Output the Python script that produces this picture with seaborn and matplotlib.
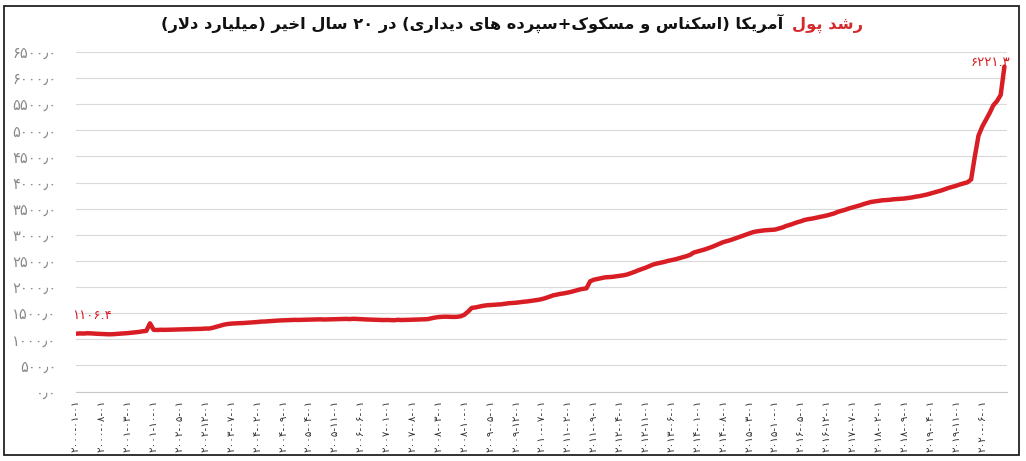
import re
import numpy as np
import pandas as pd
import matplotlib
matplotlib.use("Agg")
import matplotlib.pyplot as plt
import seaborn as sns
from matplotlib.offsetbox import TextArea, HPacker, AnchoredOffsetbox
from matplotlib.patches import Rectangle

# ---------------- data (billion USD, monthly) ----------------
months = pd.date_range("2000-01-01", "2020-12-01", freq="MS")
v2000 = [1106.4, 1112, 1110, 1115, 1113, 1108, 1104, 1102, 1098, 1095, 1097, 1103]
v2001 = [1108, 1112, 1118, 1125, 1132, 1140, 1152, 1160, 1305, 1180, 1178, 1182]
v2002 = [1180, 1182, 1185, 1188, 1186, 1190, 1192, 1195, 1194, 1198, 1200, 1205]
v2003 = [1205, 1220, 1240, 1260, 1280, 1292, 1300, 1305, 1308, 1310, 1315, 1320]
v2004 = [1325, 1330, 1338, 1340, 1345, 1350, 1355, 1360, 1362, 1365, 1368, 1372]
v2005 = [1370, 1372, 1375, 1378, 1376, 1380, 1382, 1378, 1380, 1384, 1382, 1386]
v2006 = [1388, 1390, 1386, 1392, 1388, 1385, 1380, 1378, 1375, 1372, 1370, 1368]
v2007 = [1370, 1368, 1365, 1372, 1368, 1370, 1374, 1376, 1378, 1380, 1382, 1385]
v2008 = [1400, 1415, 1425, 1430, 1432, 1430, 1428, 1430, 1440, 1470, 1530, 1600]
v2009 = [1610, 1625, 1640, 1650, 1655, 1660, 1665, 1670, 1680, 1690, 1695, 1700]
v2010 = [1710, 1718, 1725, 1735, 1745, 1755, 1770, 1790, 1815, 1840, 1855, 1870]
v2011 = [1880, 1895, 1910, 1930, 1950, 1965, 1975, 2110, 2140, 2155, 2170, 2185]
v2012 = [2190, 2195, 2205, 2215, 2225, 2240, 2265, 2290, 2320, 2345, 2370, 2400]
v2013 = [2430, 2450, 2465, 2480, 2500, 2515, 2530, 2550, 2570, 2590, 2615, 2660]
v2014 = [2680, 2700, 2720, 2745, 2770, 2800, 2830, 2860, 2880, 2900, 2925, 2950]
v2015 = [2975, 3000, 3025, 3050, 3065, 3075, 3085, 3090, 3095, 3100, 3120, 3140]
v2016 = [3170, 3190, 3215, 3240, 3260, 3285, 3300, 3310, 3325, 3340, 3355, 3370]
v2017 = [3390, 3410, 3440, 3460, 3480, 3505, 3525, 3545, 3565, 3590, 3610, 3630]
v2018 = [3640, 3650, 3660, 3665, 3670, 3680, 3685, 3690, 3695, 3705, 3715, 3730]
v2019 = [3740, 3755, 3770, 3790, 3810, 3830, 3850, 3875, 3900, 3920, 3940, 3965]
v2020 = [3985, 4005, 4060, 4500, 4900, 5070, 5200, 5330, 5480, 5560, 5680, 6221.3]
values = np.concatenate([v2000, v2001, v2002, v2003, v2004, v2005, v2006,
                         v2007, v2008, v2009, v2010, v2011, v2012, v2013,
                         v2014, v2015, v2016, v2017, v2018, v2019, v2020])

y_ticks = [0, 500, 1000, 1500, 2000, 2500, 3000, 3500, 4000, 4500, 5000,
           5500, 6000, 6500]
tick_step_months = 7

title_red = "رشد پول"
title_black = "آمریکا (اسکناس و مسکوک+سپرده های دیداری) در ۲۰ سال اخیر (میلیارد دلار)"

# ---------------- Persian text helpers ----------------
FA_DIGITS = str.maketrans("0123456789", "۰۱۲۳۴۵۶۷۸۹")

FORMS = {
    'ا': ('\uFE8D', '\uFE8E', None, None),
    'آ': ('\uFE81', '\uFE82', None, None),
    'ب': ('\uFE8F', '\uFE90', '\uFE91', '\uFE92'),
    'پ': ('\uFB56', '\uFB57', '\uFB58', '\uFB59'),
    'ت': ('\uFE95', '\uFE96', '\uFE97', '\uFE98'),
    'ج': ('\uFE9D', '\uFE9E', '\uFE9F', '\uFEA0'),
    'خ': ('\uFEA5', '\uFEA6', '\uFEA7', '\uFEA8'),
    'د': ('\uFEA9', '\uFEAA', None, None),
    'ر': ('\uFEAD', '\uFEAE', None, None),
    'س': ('\uFEB1', '\uFEB2', '\uFEB3', '\uFEB4'),
    'ش': ('\uFEB5', '\uFEB6', '\uFEB7', '\uFEB8'),
    'ف': ('\uFED1', '\uFED2', '\uFED3', '\uFED4'),
    'ک': ('\uFB8E', '\uFB8F', '\uFB90', '\uFB91'),
    'گ': ('\uFB92', '\uFB93', '\uFB94', '\uFB95'),
    'ل': ('\uFEDD', '\uFEDE', '\uFEDF', '\uFEE0'),
    'م': ('\uFEE1', '\uFEE2', '\uFEE3', '\uFEE4'),
    'ن': ('\uFEE5', '\uFEE6', '\uFEE7', '\uFEE8'),
    'و': ('\uFEED', '\uFEEE', None, None),
    'ه': ('\uFEE9', '\uFEEA', '\uFEEB', '\uFEEC'),
    'ی': ('\uFBFC', '\uFBFD', '\uFBFE', '\uFBFF'),
}


def _dual(c):
    return c in FORMS and FORMS[c][2] is not None


def shape(s):
    out, i, n = [], 0, len(s)
    while i < n:
        c = s[i]
        if c not in FORMS:
            out.append(c)
            i += 1
            continue
        jp = i > 0 and _dual(s[i - 1])
        if c == 'ل' and i + 1 < n and s[i + 1] in ('ا', 'آ'):
            if s[i + 1] == 'ا':
                out.append('\uFEFC' if jp else '\uFEFB')
            else:
                out.append('\uFEF6' if jp else '\uFEF5')
            i += 2
            continue
        jn = _dual(c) and i + 1 < n and s[i + 1] in FORMS
        iso, fin, ini, med = FORMS[c]
        out.append(med if (jp and jn) else fin if jp else ini if jn else iso)
        i += 1
    return "".join(out)


def rtl(s):
    toks = re.findall(r"[0-9۰-۹][0-9۰-۹.٫]*|.", shape(s))
    mirror = {"(": ")", ")": "("}
    return "".join(mirror.get(t, t) for t in toks[::-1])


def fa_num(v, dec="٫"):
    return f"{v:.1f}".replace(".", "#").translate(FA_DIGITS).replace("#", dec)


# ---------------- figure ----------------
sns.set_theme(style="white")
plt.rcParams["font.family"] = ["DejaVu Sans"]

W, H = 1026, 461
fig = plt.figure(figsize=(W / 100, H / 100), dpi=100)
fig.patch.set_facecolor("white")

ax = fig.add_axes([76 / W, 69.5 / H, 931 / W, 339.5 / H])

df = pd.DataFrame({"idx": np.arange(len(values)), "value": values})
line_color = "#d81e24"
sns.lineplot(data=df, x="idx", y="value", ax=ax, color=line_color,
             linewidth=3.2, solid_capstyle="round", solid_joinstyle="round")

ax.set_xlim(0, 251.7)
ax.set_ylim(0, 6500)
ax.set_yticks(y_ticks)
ax.set_yticklabels([fa_num(v) for v in y_ticks])
ax.tick_params(axis="y", length=0, pad=14, labelsize=10.5, labelcolor="#8a8a8a")

tick_pos = np.arange(0, len(months), tick_step_months)
ax.set_xticks(tick_pos)
ax.set_xticklabels([months[i].strftime("%Y-%m-%d").translate(FA_DIGITS) for i in tick_pos],
                   rotation=90)
ax.tick_params(axis="x", length=0, pad=6, labelsize=7.5, labelcolor="#333333")
ax.set_xlabel("")
ax.set_ylabel("")
ax.yaxis.grid(True, color="#d9d9d9", linewidth=0.8)
ax.xaxis.grid(False)
for side in ("top", "right", "left"):
    ax.spines[side].set_visible(False)
ax.spines["bottom"].set_color("#c8c8c8")
ax.spines["bottom"].set_linewidth(0.8)

# annotations of first/last values
ax.annotate(fa_num(values[0], "."), xy=(0, values[0]), xytext=(-4, 18),
            textcoords="offset pixels", ha="left", va="center",
            color=line_color, fontsize=9.5)
ax.annotate(fa_num(values[-1], "."), xy=(len(values) - 1, values[-1]), xytext=(6, 4),
            textcoords="offset pixels", ha="right", va="center",
            color=line_color, fontsize=9.5)

# two-colour title
fs_title = 11.7
ta_black = TextArea(rtl(title_black), textprops=dict(color="#111111", fontsize=fs_title,
                                                      fontweight="bold"))
ta_red = TextArea(rtl(title_red), textprops=dict(color="#d32a2e", fontsize=fs_title,
                                                  fontweight="bold"))
pack = HPacker(children=[ta_black, ta_red], align="baseline", pad=0, sep=6)
anch = AnchoredOffsetbox(loc="center", child=pack, pad=0, frameon=False,
                         bbox_to_anchor=(512 / W, 1 - 23 / H),
                         bbox_transform=fig.transFigure, borderpad=0)
fig.add_artist(anch)

# outer frame
fig.add_artist(Rectangle((4 / W, 6 / H), 1015 / W, 449 / H, transform=fig.transFigure,
                         fill=False, edgecolor="#222222", linewidth=1.3))

fig.savefig("out.png", dpi=100, facecolor="white")
